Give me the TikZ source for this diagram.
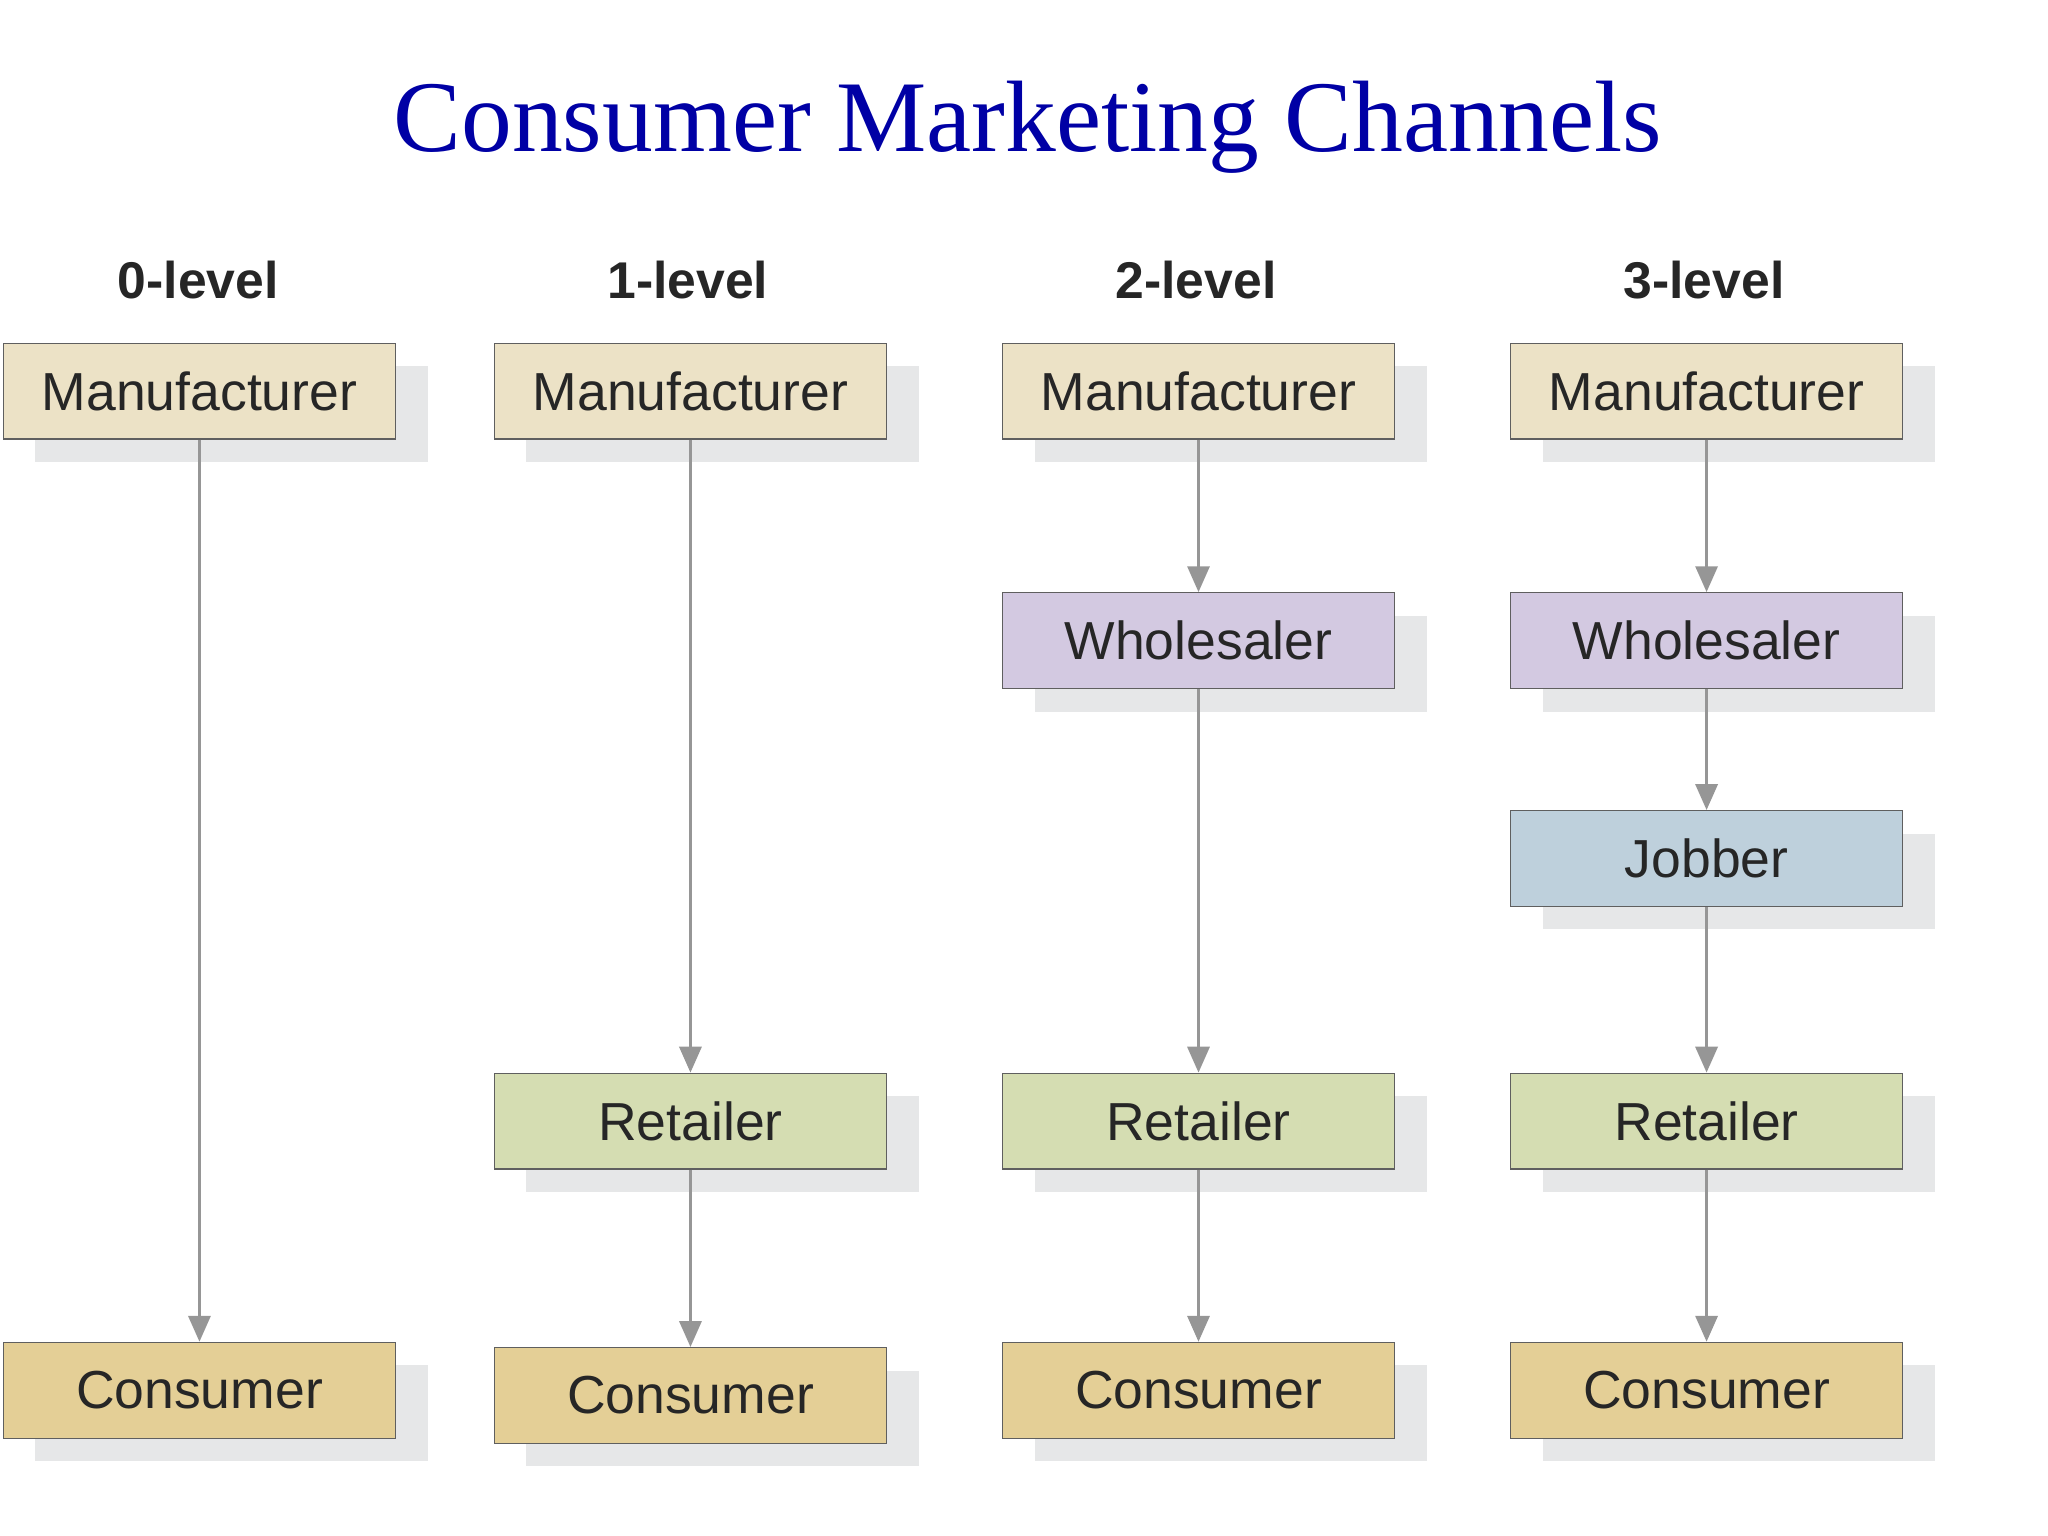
\documentclass[tikz,border=0pt]{standalone}
\usepackage{fontspec}
\setmainfont{Liberation Sans}
\newfontfamily\titlefont{Liberation Serif}
\usetikzlibrary{arrows.meta}
\definecolor{manu}{RGB}{236,226,198}
\definecolor{whol}{RGB}{211,201,225}
\definecolor{jobb}{RGB}{190,208,220}
\definecolor{reta}{RGB}{213,221,178}
\definecolor{cons}{RGB}{228,207,150}
\definecolor{shad}{RGB}{230,231,232}
\definecolor{arr}{RGB}{150,150,150}
\definecolor{navy}{RGB}{0,0,165}
\begin{document}
\begin{tikzpicture}[x=0.5mm,y=-0.5mm,
  box/.style={draw={rgb,255:red,95;green,95;blue,95},line width=1.2pt,minimum width=149.5mm,minimum height=36.5mm,inner sep=0pt,font=\fontsize{58}{60}\selectfont,text=black!85,anchor=north west},
  lvl/.style={font=\bfseries\fontsize{56}{60}\selectfont,text=black!85},
  ar/.style={draw=arr,line width=3pt,-{Triangle[width=24pt,length=28pt]}},
  ln/.style={draw=arr,line width=3pt}]
\useasboundingbox (0,0) rectangle (1560,1170);
\node[font=\titlefont\fontsize{110}{120}\selectfont,text=navy] (title) at (783,97) {Consumer Marketing Channels};
% shadows
\foreach \x/\y in {2/261,2/1022,376/261,376/817,376/1026,763/261,763/451,763/817,763/1022,1150/261,1150/451,1150/617,1150/817,1150/1022}
  \fill[shad] (\x+25,\y+18) rectangle (\x+324,\y+91);
% levels
\node[lvl] (l0) at (151,213) {0-level};
\node[lvl] (l1) at (524,213) {1-level};
\node[lvl] (l2) at (911,213) {2-level};
\node[lvl] (l3) at (1298,213) {3-level};
% column 0
\node[box,fill=manu] (m0) at (2,261) {Manufacturer};
\node[box,fill=cons] (c0) at (2,1022) {Consumer};
% column 1
\node[box,fill=manu] (m1) at (376,261) {Manufacturer};
\node[box,fill=reta] (r1) at (376,817) {Retailer};
\node[box,fill=cons] (c1) at (376,1026) {Consumer};
% column 2
\node[box,fill=manu] (m2) at (763,261) {Manufacturer};
\node[box,fill=whol] (w2) at (763,451) {Wholesaler};
\node[box,fill=reta] (r2) at (763,817) {Retailer};
\node[box,fill=cons] (c2) at (763,1022) {Consumer};
% column 3
\node[box,fill=manu] (m3) at (1150,261) {Manufacturer};
\node[box,fill=whol] (w3) at (1150,451) {Wholesaler};
\node[box,fill=jobb] (j3) at (1150,617) {Jobber};
\node[box,fill=reta] (r3) at (1150,817) {Retailer};
\node[box,fill=cons] (c3) at (1150,1022) {Consumer};
% arrows
\draw[ar] (m0.south) -- (c0.north);
\draw[ar] (m1.south) -- (r1.north);
\draw[ar] (r1.south) -- (c1.north);
\draw[ar] (m2.south) -- (w2.north);
\draw[ar] (w2.south) -- (r2.north);
\draw[ar] (r2.south) -- (c2.north);
\draw[ar] (m3.south) -- (w3.north);
\draw[ar] (w3.south) -- (j3.north);
\draw[ar] (j3.south) -- (r3.north);
\draw[ar] (r3.south) -- (c3.north);
\end{tikzpicture}
\end{document}
